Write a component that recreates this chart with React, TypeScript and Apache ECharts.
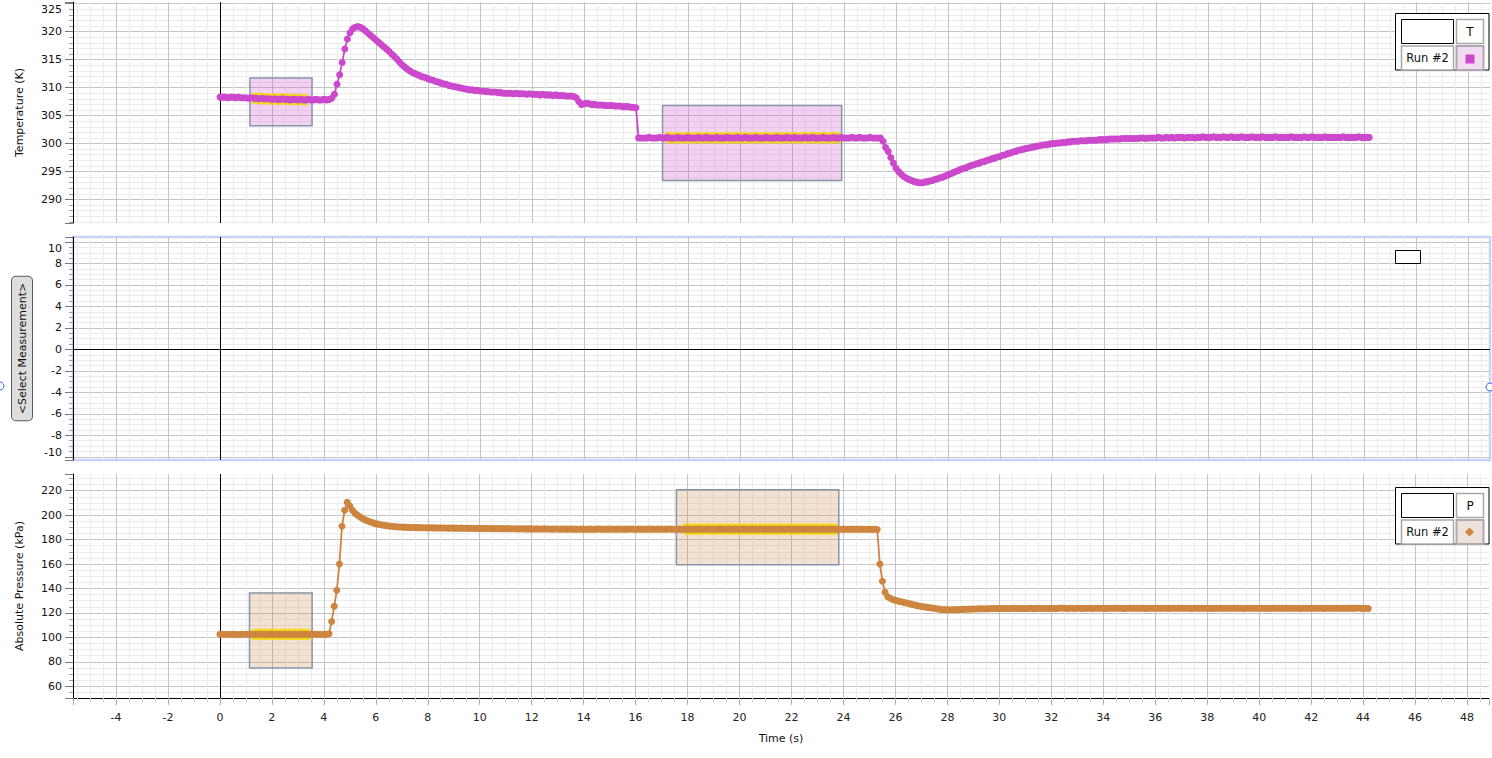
import React, { useEffect, useRef } from "react";
import * as echarts from "echarts";

// ---------------- data ----------------
const SAMPLE_PERIOD_S = 0.1;

// Temperature (K), one row per second, sampled every 0.1 s from t = 0 s
const temperatureK: number[] = [
  308.3, 308.3, 308.3, 308.2, 308.3, 308.3, 308.2, 308.3, 308.2, 308.2,
  308.2, 308.1, 308.2, 308.1, 308.1, 308.0, 308.1, 308.0, 308.0, 308.0,
  307.9, 308.0, 307.9, 307.9, 308.0, 307.9, 307.9, 307.8, 307.9, 307.9,
  307.8, 307.9, 307.8, 307.8, 307.9, 307.8, 307.8, 307.9, 307.8, 307.8,
  307.9, 307.8, 307.9, 308.1, 308.8, 310.6, 312.3, 314.5, 316.9, 318.7,
  319.8, 320.5, 320.8, 320.9, 320.8, 320.5, 320.1, 319.7, 319.3, 318.9,
  318.5, 318.1, 317.7, 317.3, 316.9, 316.5, 316.0, 315.6, 315.1, 314.6,
  314.1, 313.7, 313.3, 313.0, 312.7, 312.5, 312.3, 312.1, 311.9, 311.8,
  311.6, 311.4, 311.3, 311.1, 311.0, 310.8, 310.7, 310.6, 310.4, 310.3,
  310.2, 310.1, 310.0, 309.9, 309.8, 309.7, 309.6, 309.6, 309.5, 309.5,
  309.4, 309.4, 309.3, 309.3, 309.2, 309.2, 309.2, 309.1, 309.1, 309.0,
  309.0, 309.0, 309.0, 308.9, 309.0, 308.9, 308.9, 308.9, 308.8, 308.9,
  308.8, 308.8, 308.8, 308.7, 308.8, 308.7, 308.7, 308.7, 308.6, 308.7,
  308.6, 308.6, 308.6, 308.5, 308.5, 308.5, 308.4, 308.2, 307.5, 307.0,
  307.1, 307.2, 307.1, 307.0, 307.0, 306.9, 306.9, 306.9, 306.8, 306.8,
  306.8, 306.8, 306.7, 306.7, 306.7, 306.6, 306.6, 306.6, 306.5, 306.5,
  306.4, 301.0, 301.0, 301.0, 301.0, 301.1, 301.0, 301.0, 301.0, 301.1,
  301.0, 301.0, 301.1, 301.0, 301.0, 301.0, 301.1, 301.0, 301.0, 301.0,
  301.1, 301.0, 301.0, 301.0, 301.1, 301.0, 301.0, 301.1, 301.0, 301.0,
  301.0, 301.1, 301.0, 301.0, 301.0, 301.1, 301.0, 301.0, 301.0, 301.1,
  301.0, 301.0, 301.1, 301.0, 301.0, 301.0, 301.1, 301.0, 301.0, 301.0,
  301.1, 301.0, 301.0, 301.0, 301.1, 301.0, 301.0, 301.0, 301.1, 301.0,
  301.0, 301.1, 301.0, 301.0, 301.0, 301.1, 301.0, 301.0, 301.1, 301.0,
  301.0, 301.0, 301.1, 301.0, 301.0, 301.0, 301.1, 301.0, 301.0, 301.1,
  301.0, 301.0, 301.0, 301.1, 301.0, 301.0, 301.1, 301.0, 301.0, 301.0,
  301.1, 301.0, 301.0, 301.0, 301.0, 300.4, 299.3, 298.6, 297.5, 296.5,
  295.6, 295.0, 294.5, 294.1, 293.8, 293.6, 293.4, 293.2, 293.1, 293.0,
  293.0, 293.1, 293.2, 293.3, 293.4, 293.6, 293.7, 293.9, 294.0, 294.2,
  294.4, 294.6, 294.8, 295.0, 295.2, 295.4, 295.6, 295.7, 295.9, 296.1,
  296.2, 296.4, 296.5, 296.7, 296.8, 297.0, 297.1, 297.3, 297.4, 297.6,
  297.7, 297.9, 298.0, 298.2, 298.3, 298.5, 298.6, 298.8, 298.9, 299.0,
  299.1, 299.2, 299.3, 299.4, 299.5, 299.6, 299.7, 299.8, 299.8, 299.9,
  300.0, 300.0, 300.1, 300.1, 300.2, 300.2, 300.3, 300.3, 300.4, 300.4,
  300.4, 300.5, 300.5, 300.5, 300.6, 300.6, 300.6, 300.6, 300.7, 300.7,
  300.7, 300.7, 300.8, 300.8, 300.8, 300.8, 300.8, 300.9, 300.9, 300.9,
  300.9, 300.9, 300.9, 300.9, 301.0, 301.0, 300.9, 301.0, 301.0, 301.0,
  301.0, 301.1, 301.0, 301.0, 301.1, 301.0, 301.1, 301.0, 301.1, 301.1,
  301.1, 301.0, 301.1, 301.1, 301.1, 301.0, 301.1, 301.1, 301.2, 301.1,
  301.1, 301.1, 301.2, 301.1, 301.1, 301.1, 301.2, 301.1, 301.1, 301.2,
  301.1, 301.1, 301.1, 301.2, 301.1, 301.1, 301.1, 301.2, 301.1, 301.1,
  301.1, 301.2, 301.1, 301.1, 301.1, 301.1, 301.2, 301.1, 301.1, 301.1,
  301.1, 301.1, 301.2, 301.1, 301.1, 301.1, 301.1, 301.2, 301.1, 301.1,
  301.2, 301.1, 301.1, 301.1, 301.1, 301.2, 301.1, 301.1, 301.1, 301.1,
  301.1, 301.1, 301.2, 301.1, 301.1, 301.1, 301.1, 301.1, 301.2, 301.1,
  301.1, 301.1, 301.1,
];

// Absolute pressure (kPa), same sampling
const pressureKPa: number[] = [
  102.5, 102.6, 102.4, 102.5, 102.5, 102.6, 102.5, 102.4, 102.5, 102.6,
  102.5, 102.5, 102.6, 102.4, 102.5, 102.5, 102.6, 102.5, 102.4, 102.5,
  102.6, 102.5, 102.5, 102.4, 102.6, 102.5, 102.5, 102.6, 102.4, 102.5,
  102.5, 102.6, 102.5, 102.5, 102.4, 102.5, 102.6, 102.5, 102.5, 102.4,
  102.5, 102.6, 103.0, 113.0, 125.5, 138.5, 160.0, 191.0, 204.0, 210.5,
  207.5, 204.0, 201.5, 200.0, 198.5, 197.2, 196.0, 195.2, 194.4, 193.7,
  193.1, 192.6, 192.2, 191.8, 191.5, 191.2, 191.0, 190.8, 190.6, 190.4,
  190.3, 190.2, 190.1, 190.0, 189.9, 189.9, 189.8, 189.8, 189.7, 189.7,
  189.6, 189.7, 189.6, 189.6, 189.5, 189.6, 189.5, 189.5, 189.4, 189.5,
  189.4, 189.4, 189.3, 189.4, 189.3, 189.3, 189.2, 189.3, 189.2, 189.2,
  189.2, 189.1, 189.2, 189.1, 189.1, 189.0, 189.1, 189.0, 189.0, 189.0,
  188.9, 189.0, 188.9, 188.9, 188.9, 188.8, 188.9, 188.8, 188.8, 188.8,
  188.8, 188.7, 188.8, 188.7, 188.7, 188.8, 188.7, 188.7, 188.6, 188.7,
  188.7, 188.6, 188.7, 188.6, 188.6, 188.7, 188.6, 188.6, 188.5, 188.6,
  188.6, 188.5, 188.6, 188.6, 188.5, 188.6, 188.7, 188.6, 188.5, 188.6,
  188.6, 188.6, 188.5, 188.6, 188.6, 188.5, 188.6, 188.6, 188.7, 188.6,
  188.5, 188.6, 188.6, 188.5, 188.6, 188.6, 188.6, 188.5, 188.6, 188.6,
  188.6, 188.5, 188.6, 188.7, 188.6, 188.5, 188.6, 188.6, 188.5, 188.6,
  188.6, 188.6, 188.5, 188.6, 188.6, 188.6, 188.5, 188.7, 188.6, 188.5,
  188.6, 188.5, 188.6, 188.6, 188.5, 188.6, 188.6, 188.5, 188.6, 188.6,
  188.5, 188.6, 188.6, 188.5, 188.6, 188.6, 188.6, 188.5, 188.6, 188.5,
  188.6, 188.6, 188.5, 188.6, 188.5, 188.6, 188.6, 188.5, 188.6, 188.6,
  188.5, 188.6, 188.5, 188.6, 188.6, 188.5, 188.6, 188.5, 188.6, 188.5,
  188.6, 188.5, 188.6, 188.5, 188.6, 188.6, 188.5, 188.6, 188.5, 188.5,
  188.6, 188.5, 188.5, 188.6, 188.5, 188.5, 188.6, 188.5, 188.5, 188.5,
  188.5, 188.4, 188.5, 188.3, 160.0, 146.0, 137.0, 133.2, 132.0, 131.0,
  130.3, 129.8, 129.3, 128.8, 128.3, 127.8, 127.2, 126.7, 126.2, 125.7,
  125.3, 125.0, 124.7, 124.4, 124.1, 123.8, 123.4, 123.1, 122.8, 122.7,
  122.6, 122.6, 122.6, 122.7, 122.7, 122.8, 122.9, 123.0, 123.1, 123.2,
  123.3, 123.3, 123.4, 123.4, 123.5, 123.5, 123.5, 123.6, 123.6, 123.6,
  123.7, 123.6, 123.7, 123.7, 123.6, 123.7, 123.8, 123.7, 123.7, 123.6,
  123.7, 123.7, 123.8, 123.7, 123.7, 123.8, 123.7, 123.7, 123.8, 123.7,
  123.8, 123.7, 123.7, 123.8, 124.1, 123.8, 123.7, 123.8, 123.8, 123.7,
  123.8, 123.8, 123.7, 123.8, 123.8, 123.8, 123.7, 123.8, 123.9, 123.8,
  123.8, 123.7, 123.8, 123.8, 123.8, 123.9, 123.8, 123.8, 123.7, 123.8,
  123.8, 123.8, 123.9, 123.8, 123.8, 123.8, 123.7, 123.8, 123.8, 123.9,
  123.8, 123.8, 123.8, 123.9, 123.8, 123.7, 123.8, 123.8, 123.8, 123.8,
  123.9, 123.8, 123.8, 123.8, 123.7, 123.8, 123.8, 123.9, 123.8, 123.8,
  123.8, 123.8, 123.7, 123.8, 123.8, 123.8, 123.9, 123.8, 123.8, 123.8,
  123.8, 123.9, 123.8, 123.8, 123.7, 123.8, 123.8, 123.8, 123.9, 123.8,
  123.8, 123.8, 123.8, 123.7, 123.8, 123.8, 123.9, 123.8, 123.8, 123.8,
  123.8, 123.8, 123.9, 123.8, 123.8, 123.8, 123.7, 123.8, 123.8, 123.8,
  123.9, 123.8, 123.8, 123.8, 123.8, 123.7, 123.8, 123.8, 123.9, 123.8,
  123.8, 123.8, 123.8, 123.9, 123.8, 123.8, 123.8, 123.8, 124.0, 123.8,
  123.7, 123.8, 123.7,
];

// selection boxes: [startTime, endTime, lowValue, highValue]
const tempSelections: number[][] = [
  [1.15, 3.54, 303.2, 311.7],
  [17.02, 23.91, 293.4, 306.8],
];
const pressureSelections: number[][] = [
  [1.14, 3.55, 75.0, 136.4],
  [17.57, 23.82, 159.5, 220.9],
];
// time ranges of highlighted (selected) samples
const tempHighlightRanges: number[][] = [
  [1.3, 3.3],
  [17.2, 23.8],
];
const pressureHighlightRanges: number[][] = [
  [1.3, 3.4],
  [17.9, 23.7],
];

const timeAxisName = "Time (s)";
const tempAxisName = "Temperature (K)";
const pressureAxisName = "Absolute Pressure (kPa)";
const emptyAxisName = "<Select Measurement>";
const tempLegendLabel = "T";
const pressureLegendLabel = "P";
const runLabel = "Run #2";

// ---------------- styling ----------------
const FONT = "'DejaVu Sans', 'Noto Sans', sans-serif";
const T_COLOR = "#cc48cc";
const P_COLOR = "#cd853f";
const HILITE = "#f3d800";
const MAJOR = "#c4c4c4";
const MINOR = "#ececec";
const W = 1492;
const H = 758;

const X_MIN = -5.654;
const X_MAX = 48.846;

const toPoints = (vals: number[]) =>
  vals.map((v, i) => [Math.round(i * SAMPLE_PERIOD_S * 10) / 10, v]);

const inRanges = (t: number, ranges: number[][]) =>
  ranges.some(([a, b]) => t >= a - 1e-9 && t <= b + 1e-9);

const multipleOf = (v: number, step: number) => {
  const q = v / step;
  return Math.abs(q - Math.round(q)) < 1e-6;
};

const xAxisFor = (gridIndex: number, bottom: boolean) => ({
  type: "value",
  gridIndex,
  min: X_MIN,
  max: X_MAX,
  splitNumber: 27,
  name: bottom ? timeAxisName : "",
  nameLocation: "middle",
  nameGap: 35,
  nameTextStyle: { fontFamily: FONT, fontSize: 11, color: "#111" },
  axisLine: { show: bottom, onZero: false, lineStyle: { color: "#000", width: 1 } },
  axisTick: { show: bottom, length: 7, lineStyle: { color: "#b0b0b0" } },
  minorTick: { show: bottom, splitNumber: 4, length: 4, lineStyle: { color: "#d8d8d8" } },
  axisLabel: {
    show: bottom,
    margin: 14,
    fontFamily: FONT,
    fontSize: 11,
    color: "#222",
    formatter: (v: number) => (multipleOf(v, 2) ? String(Math.round(v)) : ""),
  },
  splitLine: { show: true, showMinLine: false, showMaxLine: false, lineStyle: { color: MAJOR, width: 1 } },
  minorSplitLine: { show: true, lineStyle: { color: MINOR, width: 1 } },
});

const yAxisFor = (
  gridIndex: number,
  min: number,
  max: number,
  splitNumber: number,
  step: number,
  minorSplit: number,
  name: string,
  nameGap: number,
  edgeTop: number | null,
  edgeBottom: number | null,
  nameStyle: any
) => ({
  type: "value",
  gridIndex,
  min,
  max,
  splitNumber,
  name,
  nameLocation: "middle",
  nameGap,
  nameTextStyle: { fontFamily: FONT, fontSize: 11, color: "#111", ...nameStyle },
  axisLine: { show: true, onZero: false, lineStyle: { color: "#000", width: 1 } },
  axisTick: { show: true, length: 8, lineStyle: { color: "#7a7a7a" } },
  minorTick: { show: true, splitNumber: minorSplit, length: 4, lineStyle: { color: "#a0a0a0" } },
  axisLabel: {
    margin: 11,
    fontFamily: FONT,
    fontSize: 11,
    color: "#111",
    formatter: (v: number) => {
      if (!multipleOf(v, step)) return "";
      const r = Math.round(v);
      if (edgeTop !== null && r === edgeTop) return `{top|${r}}`;
      if (edgeBottom !== null && r === edgeBottom) return `{bot|${r}}`;
      return String(r);
    },
    rich: {
      top: { fontFamily: FONT, fontSize: 11, color: "#111", padding: [12, 0, 0, 0] },
      bot: { fontFamily: FONT, fontSize: 11, color: "#111", padding: [0, 0, 9, 0] },
    },
  },
  splitLine: { show: true, showMinLine: false, showMaxLine: false, lineStyle: { color: MAJOR, width: 1 } },
  minorSplitLine: { show: true, lineStyle: { color: MINOR, width: 1 } },
});

const zeroLine = (withHorizontal: boolean) => ({
  silent: true,
  symbol: ["none", "none"],
  label: { show: false },
  z: 1,
  lineStyle: { color: "#000", width: 1, type: "solid" },
  emphasis: { disabled: true },
  data: withHorizontal ? [{ xAxis: 0 }, { yAxis: 0 }] : [{ xAxis: 0 }],
});

const boxes = (sel: number[][], fill: string) => ({
  silent: true,
  z: 1,
  itemStyle: { color: fill, borderColor: "#8795a8", borderWidth: 1.5 },
  label: { show: false },
  emphasis: { disabled: true },
  data: sel.map(([a, b, lo, hi]) => [
    { xAxis: a, yAxis: hi },
    { xAxis: b, yAxis: lo },
  ]),
});

const legendGraphics = (top: number, label: string, cellFill: string, marker: any) => [
  { type: "rect", z: 50, shape: { x: 1395.5, y: top + 0.5, width: 93.5, height: 56.5 }, style: { fill: "#fff", stroke: "#000", lineWidth: 1 } },
  { type: "rect", z: 51, shape: { x: 1401.5, y: top + 6.5, width: 52, height: 24 }, style: { fill: "#fff", stroke: "#000", lineWidth: 1 } },
  { type: "rect", z: 51, shape: { x: 1456.5, y: top + 6.5, width: 27, height: 24 }, style: { fill: "#fff", stroke: "#a8a8a8", lineWidth: 1.5 } },
  { type: "text", z: 52, x: 1470, y: top + 18.5, style: { text: label, fontFamily: FONT, fontSize: 12, fill: "#111", align: "center", verticalAlign: "middle" } },
  { type: "rect", z: 51, shape: { x: 1401.5, y: top + 33, width: 52, height: 24 }, style: { fill: "#fff", stroke: "#a8a8a8", lineWidth: 1.5 } },
  { type: "text", z: 52, x: 1427.5, y: top + 45, style: { text: runLabel, fontFamily: FONT, fontSize: 11.5, fill: "#111", align: "center", verticalAlign: "middle" } },
  { type: "rect", z: 51, shape: { x: 1456.5, y: top + 33, width: 27, height: 24 }, style: { fill: cellFill, stroke: "#b0a8b0", lineWidth: 2 } },
  marker,
];

export default function App() {
  const ref = useRef<HTMLDivElement>(null);

  useEffect(() => {
    if (!ref.current) return;
    const chart = echarts.init(ref.current, null, { renderer: "svg" });

    const tPts = toPoints(temperatureK);
    const pPts = toPoints(pressureKPa);
    const tHi = tPts.filter((p) => inRanges(p[0], tempHighlightRanges));
    const pHi = pPts.filter((p) => inRanges(p[0], pressureHighlightRanges));

    const option: any = {
      animation: false,
      backgroundColor: "#fff",
      textStyle: { fontFamily: FONT },
      grid: [
        { left: 73, top: 2, width: 1417, height: 221, containLabel: false },
        {
          left: 73,
          top: 237,
          width: 1417,
          height: 223,
          containLabel: false,
          show: true,
          backgroundColor: "transparent",
          borderColor: "#c6d3f6",
          borderWidth: 2.5,
        },
        { left: 73, top: 474, width: 1417, height: 224, containLabel: false },
      ],
      xAxis: [xAxisFor(0, false), xAxisFor(1, false), xAxisFor(2, true)],
      yAxis: [
        yAxisFor(0, 285.8, 325.3, 7, 5, 5, tempAxisName, 48, 325, null, {}),
        yAxisFor(1, -10.3, 10.47, 10, 2, 4, emptyAxisName, 41, 10, -10, {
          backgroundColor: "#dedede",
          borderColor: "#5a5a5a",
          borderWidth: 1,
          borderRadius: 4,
          padding: [5, 6, 4, 6],
        }),
        yAxisFor(2, 50.4, 233.7, 9, 20, 4, pressureAxisName, 48, null, null, {}),
      ],
      series: [
        {
          name: "T highlight",
          type: "scatter",
          xAxisIndex: 0,
          yAxisIndex: 0,
          data: tHi,
          symbol: "rect",
          symbolSize: [4, 11],
          itemStyle: { color: HILITE },
          silent: true,
          z: 2,
          markArea: boxes(tempSelections, "rgba(204,72,204,0.25)"),
        },
        {
          name: "T",
          type: "line",
          xAxisIndex: 0,
          yAxisIndex: 0,
          data: tPts,
          symbol: "circle",
          symbolSize: 7,
          lineStyle: { color: T_COLOR, width: 1.8 },
          itemStyle: { color: T_COLOR },
          silent: true,
          z: 3,
          markLine: zeroLine(false),
        },
        {
          name: "empty",
          type: "line",
          xAxisIndex: 1,
          yAxisIndex: 1,
          data: [],
          silent: true,
          markLine: zeroLine(true),
        },
        {
          name: "P highlight",
          type: "scatter",
          xAxisIndex: 2,
          yAxisIndex: 2,
          data: pHi,
          symbol: "rect",
          symbolSize: [4, 11],
          itemStyle: { color: HILITE },
          silent: true,
          z: 2,
          markArea: boxes(pressureSelections, "rgba(205,133,63,0.24)"),
        },
        {
          name: "P",
          type: "line",
          xAxisIndex: 2,
          yAxisIndex: 2,
          data: pPts,
          symbol: "circle",
          symbolSize: 7,
          lineStyle: { color: P_COLOR, width: 1.8 },
          itemStyle: { color: P_COLOR },
          silent: true,
          z: 3,
          markLine: zeroLine(false),
        },
      ],
      graphic: [
        ...legendGraphics(13, tempLegendLabel, "#f2dcf2", {
          type: "rect",
          z: 53,
          shape: { x: 1465.5, y: 54.5, width: 9, height: 9 },
          style: { fill: T_COLOR },
        }),
        ...legendGraphics(487, pressureLegendLabel, "#ece2d9", {
          type: "polygon",
          z: 53,
          shape: {
            points: [
              [1469.5, 527.5],
              [1474, 532],
              [1469.5, 536.5],
              [1465, 532],
            ],
          },
          style: { fill: P_COLOR },
        }),
        { type: "rect", z: 50, shape: { x: 1395.5, y: 250.5, width: 25, height: 13 }, style: { fill: "#fff", stroke: "#000", lineWidth: 1 } },
        { type: "circle", z: 50, shape: { cx: 0, cy: 386, r: 4 }, style: { fill: "#fff", stroke: "#3c64dc", lineWidth: 1 } },
        { type: "circle", z: 50, shape: { cx: 1490, cy: 387, r: 4 }, style: { fill: "#fff", stroke: "#3c64dc", lineWidth: 1 } },
      ],
    };

    chart.setOption(option);
    return () => chart.dispose();
  }, []);

  return (
    <div
      ref={ref}
      style={{ position: "absolute", left: 0, top: 0, width: W, height: H, background: "#fff" }}
    />
  );
}
